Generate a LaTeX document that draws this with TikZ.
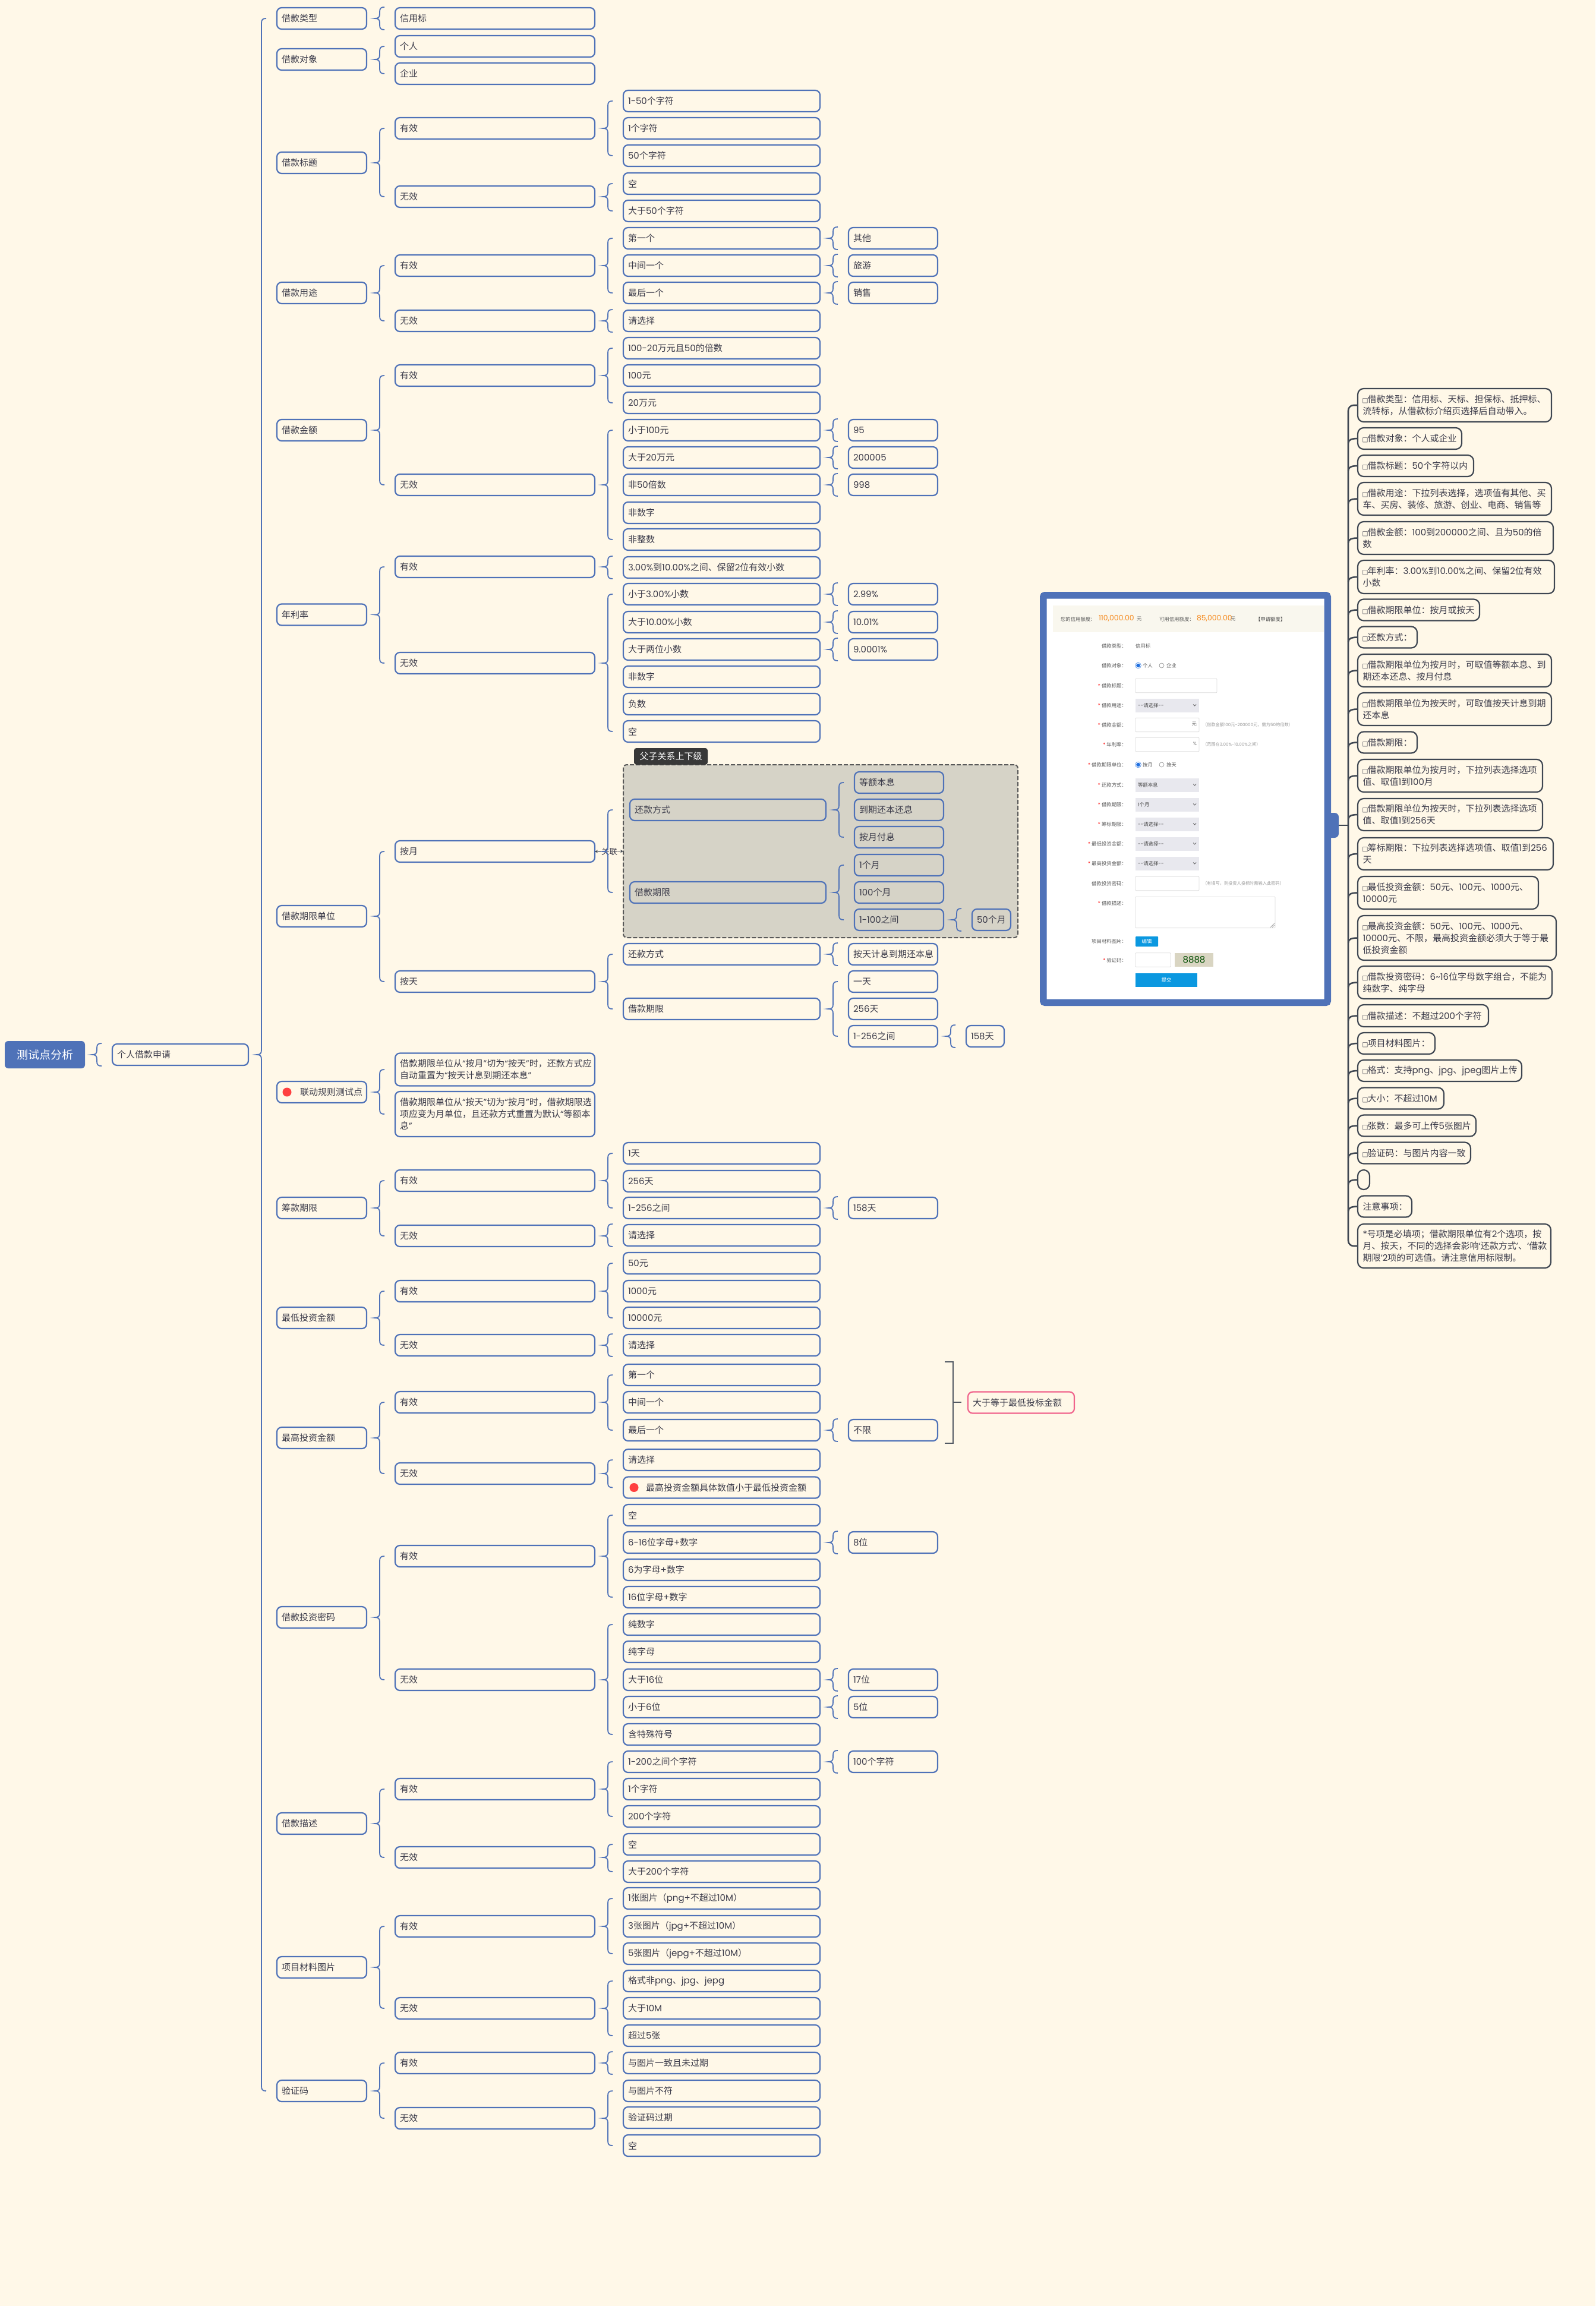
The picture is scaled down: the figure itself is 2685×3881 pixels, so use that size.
\documentclass[tikz,border=0pt]{standalone}
\usepackage{fontspec}
\usepackage{xcolor}
\usetikzlibrary{calc,arrows.meta}
\setmainfont{Poppins}
\newfontfamily\latf{Poppins}
\newfontfamily\cjkf{Noto Sans CJK SC}
\newfontfamily\symf{DejaVu Sans}
\newXeTeXintercharclass\cjkclass
\newXeTeXintercharclass\symclass
\newcount\cjkcnt
\newcommand{\setcjk}[2]{\cjkcnt=#1 \loop\XeTeXcharclass\cjkcnt=\cjkclass\ifnum\cjkcnt<#2 \advance\cjkcnt 1 \repeat}
\setcjk{"3000}{"303F}
\setcjk{"4E00}{"9FFF}
\setcjk{"FF00}{"FFEF}
\XeTeXcharclass"25A1=\symclass
\XeTeXcharclass"2018=0
\XeTeXcharclass"2019=0
\XeTeXcharclass"201C=0
\XeTeXcharclass"201D=0
\XeTeXinterchartoks 0 \cjkclass={\cjkf}
\XeTeXinterchartoks 4095 \cjkclass={\cjkf}
\XeTeXinterchartoks \symclass \cjkclass={\cjkf}
\XeTeXinterchartoks \cjkclass 0 ={\latf}
\XeTeXinterchartoks 4095 0 ={\latf}
\XeTeXinterchartokenstate=1
\definecolor{bgc}{HTML}{FFF8E8}
\definecolor{linec}{HTML}{4F72B8}
\definecolor{textc}{HTML}{3B3B4A}
\definecolor{notec}{HTML}{3F4752}
\definecolor{pinkc}{HTML}{F0648C}
\definecolor{grpc}{HTML}{D6D3C7}
\definecolor{skyc}{HTML}{0B98E0}
\definecolor{orangec}{HTML}{F58A1F}
\definecolor{hdrc}{HTML}{F9F7EE}
\definecolor{selc}{HTML}{E8E8EE}
\definecolor{captc}{HTML}{D9D5C2}
\definecolor{onc}{HTML}{1F6FE0}
\tikzset{
  txt/.style={text=textc,font=\fontsize{15}{20}\selectfont\latf,inner sep=0pt,outer sep=0pt},
  boxed/.style={txt,draw=linec,line width=2.2pt,rounded corners=8pt,anchor=west,align=left,inner xsep=8pt,minimum height=36pt,text width=#1},
  lvOne/.style={boxed=135pt},
  lvTwo/.style={boxed=320pt},
  lvThree/.style={boxed=315pt},
  lvFour/.style={boxed=134pt},
  note/.style={txt,draw=notec,line width=2.2pt,rounded corners=10pt,anchor=west,align=left,inner xsep=8.5pt,minimum height=36pt,text width=#1},
  brcline/.style={draw=linec,line width=1.8pt},
  noteline/.style={draw=notec,line width=2.6pt},
  bktline/.style={draw=notec!90,line width=2pt},
  reddot/.style={circle,fill=red!75!white,minimum size=15pt,inner sep=0pt},
  grpbox/.style={draw=black!65,fill=grpc,line width=2pt,dashed,dash pattern=on 7pt off 3pt,rounded corners=6pt,minimum width=664pt,minimum height=291pt,inner sep=0pt,outer sep=0pt},
  fmtx/.style={text=black!65,font=\fontsize{8.4}{11}\selectfont\latf,inner sep=0pt,outer sep=0pt},
  fmlab/.style={fmtx,anchor=east},
  fmval/.style={fmtx,anchor=west},
  fmtip/.style={fmtx,anchor=west,text=black!40,font=\fontsize{7.2}{9}\selectfont\latf},
  fminput/.style={draw=black!14,fill=white,line width=.8pt,rounded corners=1pt,anchor=west,minimum height=23.5pt,inner sep=0pt,outer sep=0pt},
  fmsel/.style={fmtx,fill=selc,anchor=west,minimum width=107pt,minimum height=23pt,text width=99pt,inner xsep=4pt,align=left,text=black!72},
  fmradio/.style={circle,draw=black!45,fill=white,line width=.6pt,minimum size=8pt,inner sep=0pt},
  fmon/.style={fmradio,draw=onc,fill=onc,double=white,double distance=1pt},
  fmamt/.style={fmval,text=orangec,font=\fontsize{12.4}{14}\selectfont\latf},
}
\newcommand{\brc}[4][0]{%
  \coordinate (p1) at ($(#3.west)+(-26,-#1)$);
  \coordinate (p2) at ($(#4.west)+(-26,#1)$);
  \coordinate (p0) at (p1 |- #2.east);
  \draw[brcline] ($(p1)+(8,0)$) .. controls ($(p1)+(2,0)$) and ($(p1)+(0,2)$) .. ($(p1)+(0,8)$)
    -- ($(p0)+(0,-8)$) .. controls ($(p0)+(0,-2)$) and ($(p0)+(-2,0)$) .. ($(p0)+(-8,0)$)
    .. controls ($(p0)+(-2,0)$) and ($(p0)+(0,2)$) .. ($(p0)+(0,8)$)
    -- ($(p2)+(0,-8)$) .. controls ($(p2)+(0,-2)$) and ($(p2)+(2,0)$) .. ($(p2)+(8,0)$);
}
\newcommand{\ck}{\makebox[8pt][c]{\symf\fontsize{10.5}{10.5}\selectfont□}}
\newcommand{\rs}{\textcolor{red}{*}\hspace{2pt}}
\begin{document}
\begin{tikzpicture}[x=1pt,y=-1pt]
\useasboundingbox (0,0) rectangle (2685,3881);
\fill[bgc] (0,0) rectangle (2685,3881);

% root
\node[txt,fill=linec,text=white,rounded corners=6pt,minimum width=135pt,minimum height=46pt,font=\fontsize{19}{22}\selectfont\latf] (root) at (75.5,1775) {测试点分析};
\node[boxed=213pt] (nA) at (189,1775) {个人借款申请};

% first level
\node[lvOne] (tp) at (466,31) {借款类型};
\node[lvOne] (ob) at (466,100) {借款对象};
\node[lvOne] (ti) at (466,274) {借款标题};
\node[lvOne] (us) at (466,493) {借款用途};
\node[lvOne] (am) at (466,724) {借款金额};
\node[lvOne] (ra) at (466,1034.5) {年利率};
\node[lvOne] (un) at (466,1542) {借款期限单位};
\node[lvOne] (lk) at (466,1838) {\mbox{\hspace{31pt}联动规则测试点}};
\node[reddot] (lkDot) at (483,1838) {};
\node[lvOne] (pe) at (466,2033) {筹款期限};
\node[lvOne] (mi) at (466,2218) {最低投资金额};
\node[lvOne] (ma) at (466,2420) {最高投资金额};
\node[lvOne] (pw) at (466,2722) {借款投资密码};
\node[lvOne] (de) at (466,3069) {借款描述};
\node[lvOne] (im) at (466,3311) {项目材料图片};
\node[lvOne] (cd) at (466,3519) {验证码};

% second level
\node[lvTwo] (tpA) at (665,31) {信用标};
\node[lvTwo] (obA) at (665,78) {个人};
\node[lvTwo] (obB) at (665,124) {企业};
\node[lvTwo] (tiY) at (665,216) {有效};
\node[lvTwo] (tiN) at (665,331) {无效};
\node[lvTwo] (usY) at (665,447) {有效};
\node[lvTwo] (usN) at (665,540) {无效};
\node[lvTwo] (amY) at (665,632) {有效};
\node[lvTwo] (amN) at (665,816) {无效};
\node[lvTwo] (raY) at (665,954) {有效};
\node[lvTwo] (raN) at (665,1116) {无效};
\node[lvTwo] (unM) at (665,1433) {按月};
\node[lvTwo] (unD) at (665,1652) {按天};
\node[lvTwo,minimum height=55pt] (lkA) at (665,1800) {借款期限单位从“按月”切为“按天”时，还款方式应\\自动重置为“按天计息到期还本息”};
\node[lvTwo,minimum height=76pt] (lkB) at (665,1875) {借款期限单位从“按天”切为“按月”时，借款期限选\\项应变为月单位，且还款方式重置为默认“等额本\\息”};
\node[lvTwo] (peY) at (665,1987) {有效};
\node[lvTwo] (peN) at (665,2080) {无效};
\node[lvTwo] (miY) at (665,2173) {有效};
\node[lvTwo] (miN) at (665,2264) {无效};
\node[lvTwo] (maY) at (665,2360) {有效};
\node[lvTwo] (maN) at (665,2480) {无效};
\node[lvTwo] (pwY) at (665,2619) {有效};
\node[lvTwo] (pwN) at (665,2827) {无效};
\node[lvTwo] (deY) at (665,3011) {有效};
\node[lvTwo] (deN) at (665,3126) {无效};
\node[lvTwo] (imY) at (665,3242) {有效};
\node[lvTwo] (imN) at (665,3380) {无效};
\node[lvTwo] (cdY) at (665,3472) {有效};
\node[lvTwo] (cdN) at (665,3565) {无效};

% third level
\node[lvThree] (tiY1) at (1049,170) {1-50个字符};
\node[lvThree] (tiY2) at (1049,216) {1个字符};
\node[lvThree] (tiY3) at (1049,262) {50个字符};
\node[lvThree] (tiN1) at (1049,309) {空};
\node[lvThree] (tiN2) at (1049,355) {大于50个字符};
\node[lvThree] (usY1) at (1049,401) {第一个};
\node[lvThree] (usY2) at (1049,447) {中间一个};
\node[lvThree] (usY3) at (1049,493) {最后一个};
\node[lvThree] (usN1) at (1049,540) {请选择};
\node[lvThree] (amY1) at (1049,586) {100-20万元且50的倍数};
\node[lvThree] (amY2) at (1049,632) {100元};
\node[lvThree] (amY3) at (1049,678) {20万元};
\node[lvThree] (amN1) at (1049,724) {小于100元};
\node[lvThree] (amN2) at (1049,770) {大于20万元};
\node[lvThree] (amN3) at (1049,816) {非50倍数};
\node[lvThree] (amN4) at (1049,863) {非数字};
\node[lvThree] (amN5) at (1049,908) {非整数};
\node[lvThree] (raY1) at (1049,955) {3.00\%到10.00\%之间、保留2位有效小数};
\node[lvThree] (raN1) at (1049,1000) {小于3.00\%小数};
\node[lvThree] (raN2) at (1049,1047) {大于10.00\%小数};
\node[lvThree] (raN3) at (1049,1093) {大于两位小数};
\node[lvThree] (raN4) at (1049,1139) {非数字};
\node[lvThree] (raN5) at (1049,1185) {负数};
\node[lvThree] (raN6) at (1049,1231) {空};
\node[lvThree] (unD1) at (1049,1606) {还款方式};
\node[lvThree] (unD2) at (1049,1698) {借款期限};
\node[lvThree] (peY1) at (1049,1941) {1天};
\node[lvThree] (peY2) at (1049,1988) {256天};
\node[lvThree] (peY3) at (1049,2033) {1-256之间};
\node[lvThree] (peN1) at (1049,2079) {请选择};
\node[lvThree] (miY1) at (1049,2126) {50元};
\node[lvThree] (miY2) at (1049,2173) {1000元};
\node[lvThree] (miY3) at (1049,2218) {10000元};
\node[lvThree] (miN1) at (1049,2264) {请选择};
\node[lvThree] (maY1) at (1049,2314) {第一个};
\node[lvThree] (maY2) at (1049,2360) {中间一个};
\node[lvThree] (maY3) at (1049,2407) {最后一个};
\node[lvThree] (maN1) at (1049,2457) {请选择};
\node[lvThree] (maN2) at (1049,2503.5) {\mbox{\hspace{30pt}最高投资金额具体数值小于最低投资金额}};
\node[reddot] (maDot) at (1067,2503.5) {};
\node[lvThree] (pwY1) at (1049,2550) {空};
\node[lvThree] (pwY2) at (1049,2596) {6-16位字母+数字};
\node[lvThree] (pwY3) at (1049,2642) {6为字母+数字};
\node[lvThree] (pwY4) at (1049,2688) {16位字母+数字};
\node[lvThree] (pwN1) at (1049,2734) {纯数字};
\node[lvThree] (pwN2) at (1049,2780) {纯字母};
\node[lvThree] (pwN3) at (1049,2827) {大于16位};
\node[lvThree] (pwN4) at (1049,2873) {小于6位};
\node[lvThree] (pwN5) at (1049,2919) {含特殊符号};
\node[lvThree] (deY1) at (1049,2965) {1-200之间个字符};
\node[lvThree] (deY2) at (1049,3011) {1个字符};
\node[lvThree] (deY3) at (1049,3057) {200个字符};
\node[lvThree] (deN1) at (1049,3104) {空};
\node[lvThree] (deN2) at (1049,3150) {大于200个字符};
\node[lvThree] (imY1) at (1049,3195) {1张图片（png+不超过10M）};
\node[lvThree] (imY2) at (1049,3242) {3张图片（jpg+不超过10M）};
\node[lvThree] (imY3) at (1049,3288) {5张图片（jepg+不超过10M）};
\node[lvThree] (imN1) at (1049,3334) {格式非png、jpg、jepg};
\node[lvThree] (imN2) at (1049,3380) {大于10M};
\node[lvThree] (imN3) at (1049,3426) {超过5张};
\node[lvThree] (cdY1) at (1049,3472) {与图片一致且未过期};
\node[lvThree] (cdN1) at (1049,3519) {与图片不符};
\node[lvThree] (cdN2) at (1049,3564) {验证码过期};
\node[lvThree] (cdN3) at (1049,3611) {空};

% fourth level
\node[lvFour] (usY1a) at (1428,401) {其他};
\node[lvFour] (usY2a) at (1428,447) {旅游};
\node[lvFour] (usY3a) at (1428,493) {销售};
\node[lvFour] (amN1a) at (1428,724) {95};
\node[lvFour] (amN2a) at (1428,770) {200005};
\node[lvFour] (amN3a) at (1428,816) {998};
\node[lvFour] (raN1a) at (1428,1000) {2.99\%};
\node[lvFour] (raN2a) at (1428,1047) {10.01\%};
\node[lvFour] (raN3a) at (1428,1093) {9.0001\%};
\node[lvFour] (unD1a) at (1428,1606) {按天计息到期还本息};
\node[lvFour] (unD2a) at (1428,1652) {一天};
\node[lvFour] (unD2b) at (1428,1698) {256天};
\node[lvFour] (unD2c) at (1428,1744) {1-256之间};
\node[boxed=48pt] (unD2d) at (1626,1744) {158天};
\node[lvFour] (peY3a) at (1428,2033) {158天};
\node[lvFour] (maY3a) at (1428,2407) {不限};
\node[lvFour] (pwY2a) at (1428,2596) {8位};
\node[lvFour] (pwN3a) at (1428,2827) {17位};
\node[lvFour] (pwN4a) at (1428,2873) {5位};
\node[lvFour] (deY1a) at (1428,2965) {100个字符};

% grouped branch
\node[grpbox] (grp) at (1381,1432.5) {};
\node[txt,fill=black!78,text=white,rounded corners=4pt,minimum width=124pt,minimum height=28pt] (grpTag) at (1129,1273) {父子关系上下级};
\node[boxed=314pt] (grpRe) at (1060,1363) {还款方式};
\node[boxed=314pt] (grpLn) at (1060,1502) {借款期限};
\node[lvFour] (grpRe1) at (1438,1317) {等额本息};
\node[lvFour] (grpRe2) at (1438,1363) {到期还本还息};
\node[lvFour] (grpRe3) at (1438,1409) {按月付息};
\node[lvFour] (grpLn1) at (1438,1456) {1个月};
\node[lvFour] (grpLn2) at (1438,1502) {100个月};
\node[lvFour] (grpLn3) at (1438,1548) {1-100之间};
\node[boxed=49pt] (grpLn4) at (1636,1548) {50个月};
\coordinate (grpA) at (grp.west |- grpRe.west);
\coordinate (grpB) at (grp.west |- grpLn.west);
\node[txt,font=\fontsize{13.5}{16}\selectfont\latf] (relLb) at (1025.5,1433) {关联};
\draw[notec,line width=.8pt,{Stealth[length=5pt,width=5pt]}-] (unM.east) -- (relLb.west);
\draw[notec,line width=.8pt,-{Stealth[length=5pt,width=5pt]}] (relLb.east) -- (grp.west);

% braces, parent/first/last
\foreach \p/\a/\b in {nA/tp/cd,ob/obA/obB,ti/tiY/tiN,tiY/tiY1/tiY3,tiN/tiN1/tiN2,us/usY/usN,usY/usY1/usY3,am/amY/amN,amY/amY1/amY3,amN/amN1/amN5,ra/raY/raN,raN/raN1/raN6,un/unM/unD,unM/grpA/grpB,unD/unD1/unD2,unD2/unD2a/unD2c,lk/lkA/lkB,pe/peY/peN,peY/peY1/peY3,mi/miY/miN,miY/miY1/miY3,ma/maY/maN,maY/maY1/maY3,maN/maN1/maN2,pw/pwY/pwN,pwY/pwY1/pwY4,pwN/pwN1/pwN5,de/deY/deN,deY/deY1/deY3,deN/deN1/deN2,im/imY/imN,imY/imY1/imY3,imN/imN1/imN3,cd/cdY/cdN,cdN/cdN1/cdN3,grpRe/grpRe1/grpRe3,grpLn/grpLn1/grpLn3}
  {\brc{\p}{\a}{\b}}
\foreach \p/\a in {root/nA,tp/tpA,usN/usN1,raY/raY1,peN/peN1,miN/miN1,usY1/usY1a,usY2/usY2a,usY3/usY3a,amN1/amN1a,amN2/amN2a,amN3/amN3a,raN1/raN1a,raN2/raN2a,raN3/raN3a,unD1/unD1a,unD2c/unD2d,peY3/peY3a,maY3/maY3a,pwY2/pwY2a,pwN3/pwN3a,pwN4/pwN4a,deY1/deY1a,cdY/cdY1,grpLn3/grpLn4}
  {\brc[19]{\p}{\a}{\a}}

% bracket and pink remark
\node[boxed=163pt,draw=pinkc,anchor=center] (maRem) at (1718.5,2360.5) {大于等于最低投标金额};
\coordinate (brA) at (1590,2292);
\coordinate (brB) at (1604,2292);
\coordinate (brC) at (1604,2429);
\coordinate (brD) at (1590,2429);
\coordinate (brE) at (1604,2360);
\draw[bktline] (brA) -- (brB) -- (brC) -- (brD);
\draw[bktline] (brE) -- ++(14,0);

% screenshot of the form
\node[fill=linec,rounded corners=7pt,minimum width=21pt,minimum height=42pt,inner sep=0pt,outer sep=0pt] (tab) at (2242.5,1389) {};
\node[draw=linec,fill=white,line width=11.5pt,rounded corners=3pt,minimum width=478.5pt,minimum height=685.5pt,inner sep=0pt,outer sep=0pt] (shot) at (1995,1344.5) {};
\node[fill=hdrc,minimum width=456pt,minimum height=45pt,inner sep=0pt,outer sep=0pt] (hdr) at (2000,1041.5) {};
\node[fmval] (hdA) at (1785,1042) {您的信用额度：};
\node[fmamt] (hdB) at (1849,1041) {110,000.00};
\node[fmval] (hdC) at (1913,1042) {元};
\node[fmval] (hdD) at (1951,1042) {可用信用额度：};
\node[fmamt] (hdE) at (2014,1041) {85,000.00};
\node[fmval] (hdF) at (2071,1042) {元};
\node[fmval,text=black!75] (hdG) at (2113,1042) {【申请额度】};
\foreach \y/\t in {1087/借款类型：,1120/借款对象：,1154/\rs{}借款标题：,1187/\rs{}借款用途：,1220/\rs{}借款金额：,1253/\rs{}年利率：,1287/\rs{}借款期限单位：,1321/\rs{}还款方式：,1354/\rs{}借款期限：,1387/\rs{}筹标期限：,1420/\rs{}最低投资金额：,1453/\rs{}最高投资金额：,1487/借款投资密码：,1520/\rs{}借款描述：,1584/项目材料图片：,1616/\rs{}验证码：}
  {\node[fmlab] (fl\y) at (1896,\y) {\t};}
\foreach \y/\t in {1187/{--请选择--},1321/等额本息,1354/1个月,1387/{--请选择--},1420/{--请选择--},1453/{--请选择--}}
  {\node[fmsel] (fs\y) at (1911,\y) {\t};
   \draw[black!70,line width=.7pt] (fs\y.east) ++(-10,-1.5) -- ++(2.5,2.5) -- ++(2.5,-2.5);}
\node[fmval] (fvType) at (1911,1087) {信用标};
\node[fmon] (raA) at (1915.5,1120) {};
\node[fmval] (raAt) at (1923,1120) {个人};
\node[fmradio] (raB) at (1955,1120) {};
\node[fmval] (raBt) at (1963,1120) {企业};
\node[fmon] (raC) at (1915.5,1287) {};
\node[fmval] (raCt) at (1923,1287) {按月};
\node[fmradio] (raD) at (1955,1287) {};
\node[fmval] (raDt) at (1963,1287) {按天};
\node[fminput,minimum width=137pt] (inTitle) at (1911,1154) {};
\node[fminput,minimum width=107pt] (inAmt) at (1911,1220) {};
\node[fmval,anchor=east,text=black!50] (inAmtU) at (2014,1219) {元};
\node[fmtip] (tipAmt) at (2024,1220) {（借款金额100元-200000元，需为50的倍数）};
\node[fminput,minimum width=107pt] (inRate) at (1911,1253) {};
\node[fmval,anchor=east,text=black!50,font=\fontsize{8}{10}\selectfont\latf] (inRateU) at (2014,1252) {\%};
\node[fmtip] (tipRate) at (2024,1253) {（范围在3.00\%-10.00\%之间）};
\node[fminput,minimum width=107pt] (inPwd) at (1911,1487) {};
\node[fmtip] (tipPwd) at (2024,1487) {（有填写，则投资人投标时需输入此密码）};
\node[fminput,minimum width=235pt,minimum height=52.5pt] (inDesc) at (1911,1535.5) {};
\draw[black!50,line width=.5pt] ($(inDesc.south east)+(-1,-8)$) -- ($(inDesc.south east)+(-8,-1)$) ($(inDesc.south east)+(-1,-5)$) -- ($(inDesc.south east)+(-5,-1)$);
\node[fmval,fill=skyc,text=white,minimum width=38pt,minimum height=17pt,align=center,rounded corners=1pt] (btEdit) at (1911,1584.5) {编辑};
\node[fminput,minimum width=59pt] (inCode) at (1911,1615.5) {};
\node[fill=captc,text=green!30!black,font=\fontsize{15}{17}\selectfont\latf,minimum width=65pt,minimum height=23.5pt,inner sep=0pt,outer sep=0pt,anchor=west] (capt) at (1977,1615.5) {8888};
\node[fmval,fill=skyc,text=white,minimum width=104pt,minimum height=23pt,align=center] (btSend) at (1911,1649) {提交};

% notes on the right
\node[note=309pt,minimum height=56pt] (n1) at (2285,682) {\ck{}借款类型：信用标、天标、担保标、抵押标、\\流转标，从借款标介绍页选择后自动带入。};
\node[note=158pt] (n2) at (2285,738) {\ck{}借款对象：个人或企业};
\node[note=178pt] (n3) at (2285,784) {\ck{}借款标题：50个字符以内};
\node[note=309pt,minimum height=55pt] (n4) at (2285,839.5) {\ck{}借款用途：下拉列表选择，选项值有其他、买\\车、买房、装修、旅游、创业、电商、销售等};
\node[note=312pt,minimum height=55pt] (n5) at (2285,905.5) {\ck{}借款金额：100到200000之间、且为50的倍\\数};
\node[note=314pt,minimum height=56pt] (n6) at (2285,971) {\ck{}年利率：3.00\%到10.00\%之间、保留2位有效\\小数};
\node[note=188pt] (n7) at (2285,1026.5) {\ck{}借款期限单位：按月或按天};
\node[note=83pt] (n8) at (2285,1072.5) {\ck{}还款方式：};
\node[note=309pt,minimum height=55pt] (n9) at (2285,1128.5) {\ck{}借款期限单位为按月时，可取值等额本息、到\\期还本还息、按月付息};
\node[note=309pt,minimum height=55pt] (n10) at (2285,1193.5) {\ck{}借款期限单位为按天时，可取值按天计息到期\\还本息};
\node[note=83pt] (n11) at (2285,1249.5) {\ck{}借款期限：};
\node[note=294pt,minimum height=55pt] (n12) at (2285,1305.5) {\ck{}借款期限单位为按月时，下拉列表选择选项\\值、取值1到100月};
\node[note=294pt,minimum height=54pt] (n13) at (2285,1371) {\ck{}借款期限单位为按天时，下拉列表选择选项\\值、取值1到256天};
\node[note=312pt,minimum height=54pt] (n14) at (2285,1437) {\ck{}筹标期限：下拉列表选择选项值、取值1到256\\天};
\node[note=287pt,minimum height=55pt] (n15) at (2285,1502.5) {\ck{}最低投资金额：50元、100元、1000元、\\10000元};
\node[note=317pt,minimum height=75pt] (n16) at (2285,1578.5) {\ck{}最高投资金额：50元、100元、1000元、\\10000元、不限，最高投资金额必须大于等于最\\低投资金额};
\node[note=310pt,minimum height=55pt] (n17) at (2285,1653.5) {\ck{}借款投资密码：6\textasciitilde16位字母数字组合，不能为\\纯数字、纯字母};
\node[note=203pt,minimum height=37pt] (n18) at (2285,1709.5) {\ck{}借款描述：不超过200个字符};
\node[note=113pt] (n19) at (2285,1756) {\ck{}项目材料图片：};
\node[note=259pt] (n20) at (2285,1802) {\ck{}格式：支持png、jpg、jpeg图片上传};
\node[note=128pt] (n21) at (2285,1848.5) {\ck{}大小：不超过10M};
\node[note=182pt] (n22) at (2285,1894.5) {\ck{}张数：最多可上传5张图片};
\node[note=173pt] (n23) at (2285,1940.5) {\ck{}验证码：与图片内容一致};
\node[note=3pt,minimum height=33pt] (n24) at (2285,1985.5) {};
\node[note=74pt] (n25) at (2285,2030.5) {注意事项：};
\node[note=308pt,minimum height=74pt] (n26) at (2285,2097) {*号项是必填项；借款期限单位有2个选项，按\\月、按天，不同的选择会影响‘还款方式’、‘借款\\期限’2项的可选值。请注意信用标限制。};
\draw[noteline,rounded corners=9pt] (n1.west) -- ++(-16,0) |- (n26.west);
\foreach \n in {2,...,25}
  {\draw[noteline] (n\n.west) .. controls ($(n\n.west)+(-10,0)$) and ($(n\n.west)+(-16,2)$) .. ($(n\n.west)+(-16,8)$);}
\draw[noteline] (tab.east) -- ++(16,0);
\end{tikzpicture}
\end{document}
